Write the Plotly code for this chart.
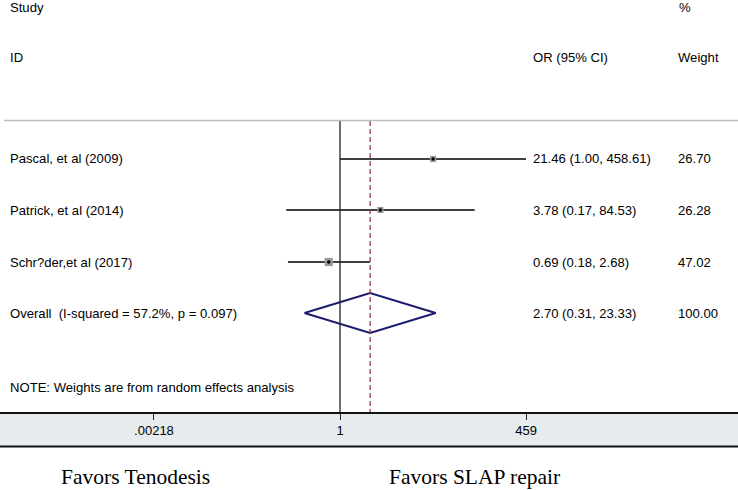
import numpy as np
import plotly.graph_objects as go

# ---- data ----
studies = ["Pascal, et al (2009)", "Patrick, et al (2014)", "Schr?der,et al (2017)"]
or_est = [21.46, 3.78, 0.69]
ci_low = [1.00, 0.17, 0.18]
ci_high = [458.61, 84.53, 2.68]
weights = [26.70, 26.28, 47.02]
overall_label = "Overall  (I-squared = 57.2%, p = 0.097)"
overall_est = 2.70
overall_low = 0.31
overall_high = 23.33
overall_weight = 100.00
tick_vals = [0.00218, 1, 459]
tick_text = [".00218", "1", "459"]

W, H = 738, 490
PX0 = 340.0          # pixel x of OR = 1
PPL = 69.9           # pixels per log10 unit
AX_Y = 412           # pixel y of axis line
row_y = [159, 210, 262, 313]

fig = go.Figure()

def px(x):
    return x / W

def py(y):
    return 1 - y / AX_Y

FONT = "Liberation Sans, Arial, sans-serif"
fs = 13.1

# CI lines and markers
for i in range(len(studies)):
    y = row_y[i]
    fig.add_trace(go.Scatter(x=[ci_low[i], ci_high[i]], y=[y, y], mode="lines",
                             line=dict(color="black", width=1.6), hoverinfo="skip", showlegend=False))
    fig.add_trace(go.Scatter(x=[or_est[i]], y=[y], mode="markers",
                             marker=dict(symbol="square", size=1.2 * np.sqrt(weights[i]),
                                         color="#9a9a9a", line=dict(width=0)),
                             hoverinfo="skip", showlegend=False))
    fig.add_trace(go.Scatter(x=[or_est[i]], y=[y], mode="markers",
                             marker=dict(symbol="circle", size=3.5, color="black"),
                             hoverinfo="skip", showlegend=False))

# overall diamond
yo = row_y[3]
fig.add_trace(go.Scatter(x=[overall_low, overall_est, overall_high, overall_est, overall_low],
                         y=[yo, yo - 20, yo, yo + 20, yo], mode="lines",
                         line=dict(color="#1c1c6e", width=2), hoverinfo="skip", showlegend=False))

# vertical reference lines
fig.add_trace(go.Scatter(x=[1, 1], y=[121, AX_Y + 7], mode="lines",
                         line=dict(color="#222222", width=1.3), hoverinfo="skip", showlegend=False,
                         cliponaxis=False))
fig.add_trace(go.Scatter(x=[overall_est, overall_est], y=[121, AX_Y], mode="lines",
                         line=dict(color="#953545", width=1.3, dash="5px,3px"),
                         hoverinfo="skip", showlegend=False))

shapes = [
    # header separator
    dict(type="line", xref="paper", yref="paper", x0=px(4), x1=1, y0=py(120.5), y1=py(120.5),
         line=dict(color="#bdbdbd", width=1.6)),
    # axis band
    dict(type="rect", xref="paper", yref="paper", x0=0, x1=1, y0=py(446), y1=py(AX_Y),
         fillcolor="#e6ebee", line=dict(width=0), layer="below"),
    dict(type="line", xref="paper", yref="paper", x0=0, x1=1, y0=py(446.5), y1=py(446.5),
         line=dict(color="#111111", width=1.8)),
]

ann = []
def txt(x, y, s, size=fs, family=FONT, xanchor="left"):
    ann.append(dict(x=px(x), y=py(y), xref="paper", yref="paper", text=s, showarrow=False,
                    xanchor=xanchor, yanchor="middle", font=dict(family=family, size=size, color="black")))

SERIF = "Liberation Serif, Times New Roman, serif"
txt(8, 8, "Study")
txt(8, 58, "ID")
txt(531, 58, "OR (95% CI)")
txt(677, 8, "%")
txt(676, 58, "Weight")
for i in range(len(studies)):
    txt(8, row_y[i], studies[i])
    txt(531, row_y[i], f"{or_est[i]:.2f} ({ci_low[i]:.2f}, {ci_high[i]:.2f})")
    txt(676, row_y[i], f"{weights[i]:.2f}")
txt(8, row_y[3], overall_label)
txt(531, row_y[3], f"{overall_est:.2f} ({overall_low:.2f}, {overall_high:.2f})")
txt(676, row_y[3], f"{overall_weight:.2f}")
txt(8, 387, "NOTE: Weights are from random effects analysis")
txt(59, 477, "Favors Tenodesis", size=21.5, family=SERIF)
txt(387, 477, "Favors SLAP repair", size=21.5, family=SERIF)

fig.update_layout(
    width=W, height=H,
    margin=dict(l=0, r=0, t=0, b=H - AX_Y),
    paper_bgcolor="white", plot_bgcolor="rgba(0,0,0,0)",
    shapes=shapes, annotations=ann, showlegend=False,
    xaxis=dict(type="log", range=[-PX0 / PPL, (W - PX0) / PPL],
               tickvals=tick_vals, ticktext=tick_text, ticks="outside", ticklen=6,
               tickcolor="#222222", tickwidth=1.2,
               showline=True, linecolor="#111111", linewidth=1.6,
               showgrid=False, zeroline=False,
               tickfont=dict(family=FONT, size=13, color="black"), fixedrange=True),
    yaxis=dict(range=[AX_Y, 0], visible=False, showgrid=False, zeroline=False, fixedrange=True),
)

fig.write_html("out.html", config={"displayModeBar": False},
               post_script="document.body.style.margin='0';")
